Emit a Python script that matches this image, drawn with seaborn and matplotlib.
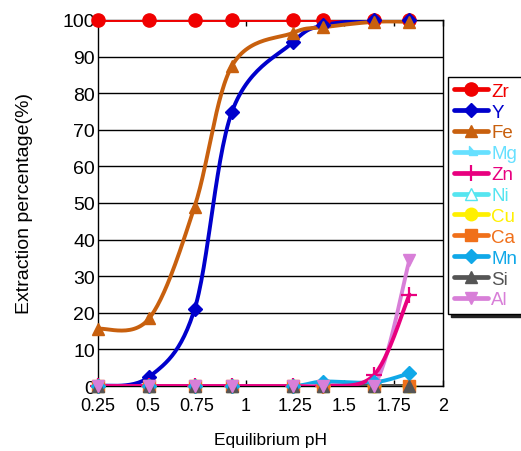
import numpy as np
import matplotlib
matplotlib.use("Agg")
import matplotlib.pyplot as plt
import seaborn as sns
from matplotlib.lines import Line2D
from matplotlib.path import Path

# ---- data ----
ph = [0.25, 0.51, 0.74, 0.93, 1.24, 1.39, 1.65, 1.83]
elements = ["Zr", "Y", "Fe", "Mg", "Zn", "Ni", "Cu", "Ca", "Mn", "Si", "Al"]
zr = [100, 100, 100, 100, 100, 100, 100, 100]
y_ = [0, 2.5, 21, 75, 94, 98.5, 100, 100]
fe = [15.6, 18.5, 49, 87.5, 96.5, 98, 99.5, 99.5]
mg = [0, 0, 0, 0, 0, 0, 0, 0]
zn = [0, 0, 0, 0, 0, 0, 3, 25]
ni = [0, 0, 0, 0, 0, 0, 0, 0]
cu = [0, 0, 0, 0, 0, 0, 0, 0]
ca = [0, 0, 0, 0, 0, 0, 0, 0]
mn = [0, 0, 0, 0, 0, 1.2, 1.0, 3.5]
si = [0, 0, 0, 0, 0, 0, 0, 0]
al = [0, 0, 0, 0, 0, 0, 0, 34.5]
series = [zr, y_, fe, mg, zn, ni, cu, ca, mn, si, al]
xticks = [0.25, 0.5, 0.75, 1, 1.25, 1.5, 1.75, 2]
xticklabels = ["0.25", "0.5", "0.75", "1", "1.25", "1.5", "1.75", "2"]
yticks = list(range(0, 101, 10))

# ---- styles ----
mg_marker = Path([(-0.4, 1.0), (-0.4, -0.5), (1.0, -0.5), (-0.4, 1.0)],
                 [Path.MOVETO, Path.LINETO, Path.LINETO, Path.CLOSEPOLY])
styles = {
    "Zr": dict(color="#F00000", marker="o", ms=9.5),
    "Y":  dict(color="#0000CC", marker="D", ms=7),
    "Fe": dict(color="#C8600E", marker="^", ms=9),
    "Mg": dict(color="#66E0FF", marker=mg_marker, ms=9),
    "Zn": dict(color="#E8007F", marker="+", ms=12, mew=1.6),
    "Ni": dict(color="#55E5F0", marker="^", ms=9, mfc="white"),
    "Cu": dict(color="#FFF000", marker="o", ms=9),
    "Ca": dict(color="#F0701A", marker="s", ms=8),
    "Mn": dict(color="#10A8E8", marker="D", ms=7),
    "Si": dict(color="#555555", marker="^", ms=9),
    "Al": dict(color="#D87FD8", marker="v", ms=9),
}

def smooth(xs, ys, n=30):
    """Excel-style smoothed line (Bezier through the data points)."""
    P = np.column_stack([xs, ys]).astype(float)
    out = [P[0]]
    m = len(P)
    for i in range(m - 1):
        p0 = P[i - 1] if i > 0 else P[i]
        p1, p2 = P[i], P[i + 1]
        p3 = P[i + 2] if i + 2 < m else P[i + 1]
        c1 = p1 + (p2 - p0) / 6.0
        c2 = p2 - (p3 - p1) / 6.0
        t = np.linspace(0, 1, n)[1:, None]
        pts = ((1 - t) ** 3) * p1 + 3 * ((1 - t) ** 2) * t * c1 + 3 * (1 - t) * t ** 2 * c2 + t ** 3 * p2
        out.extend(pts)
    out = np.array(out)
    return out[:, 0], out[:, 1]

sns.set_theme(style="white")
plt.rcParams["font.family"] = ["Liberation Sans", "DejaVu Sans"]

fig = plt.figure(figsize=(5.21, 4.52), dpi=100)
ax = fig.add_axes([98 / 521, 1 - 387 / 452, (443 - 98) / 521, (387 - 21) / 452])

lw = 2.8
handles = []
for k, (name, vals) in enumerate(zip(elements, series)):
    st = styles[name]
    sx, sy = smooth(ph, vals)
    z = 3 + k * 0.01
    if name == "Zn":
        z = 3.5
    sns.lineplot(x=sx, y=sy, ax=ax, color=st["color"], lw=lw, sort=False,
                 estimator=None, zorder=z, legend=False)
    ax.plot(ph, vals, linestyle="none", marker=st["marker"], ms=st["ms"],
            color=st["color"], mfc=st.get("mfc", st["color"]),
            mec=st["color"], mew=st.get("mew", 1), zorder=5 + k * 0.01, clip_on=False)
    handles.append(Line2D([], [], color=st["color"], lw=3.4, marker=st["marker"],
                          ms=st["ms"], mfc=st.get("mfc", st["color"]),
                          mec=st["color"], mew=st.get("mew", 1)))

ax.set_xlim(0.25, 2)
ax.set_ylim(0, 100)
ax.set_xticks(xticks)
ax.set_xticklabels(xticklabels)
ax.set_yticks(yticks)
ax.yaxis.grid(True, color="black", lw=1)
ax.xaxis.grid(False)
ax.set_axisbelow(True)
for s in ax.spines.values():
    s.set_color("black")
    s.set_linewidth(1)
ax.tick_params(axis="x", direction="in", length=4, width=1, color="black",
               top=True, bottom=True, pad=8, labelsize=13, labelcolor="black")
ax.tick_params(axis="y", length=0, pad=2, labelsize=14, labelcolor="black")
ax.set_xlabel("Equilibrium pH", fontsize=12.5, color="black", labelpad=13)
ax.set_ylabel("Extraction percentage(%)", fontsize=14, color="black", labelpad=21)

leg = fig.legend(handles, elements, loc="upper left",
                 bbox_to_anchor=(448 / 521, 1 - 78 / 452), bbox_transform=fig.transFigure,
                 borderaxespad=0, fontsize=13.5, frameon=True, fancybox=False,
                 shadow={"color": "#222222", "alpha": 1},
                 handlelength=1.85, handletextpad=0.15, labelspacing=0.2,
                 borderpad=0.3)
leg.get_frame().set_edgecolor("black")
leg.get_frame().set_linewidth(1)
for txt, name in zip(leg.get_texts(), elements):
    txt.set_color(styles[name]["color"])

fig.savefig("out.png", dpi=100, facecolor="white")
